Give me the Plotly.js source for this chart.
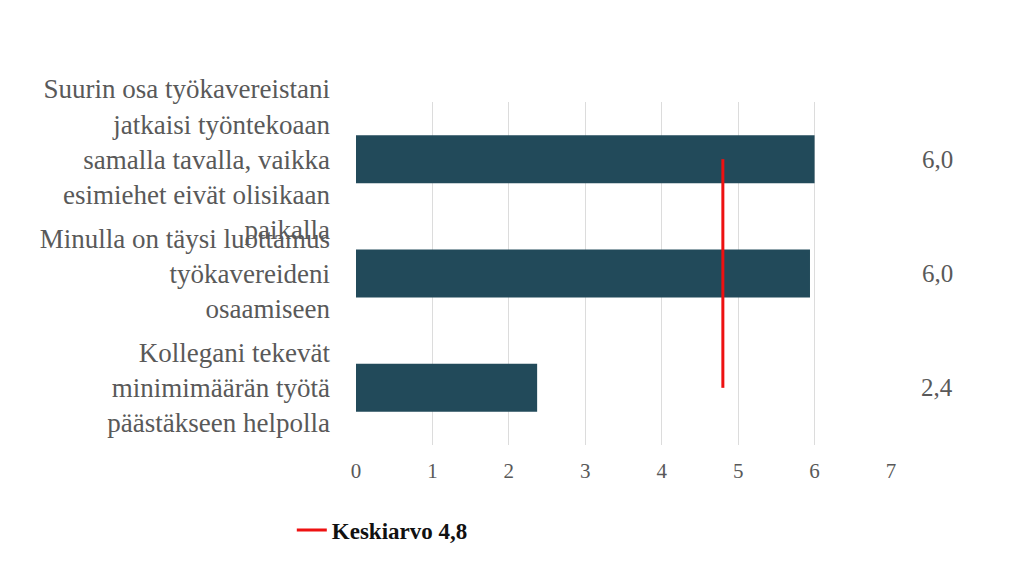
<!DOCTYPE html>
<html>
<head>
<meta charset="utf-8">
<script src="https://cdn.plot.ly/plotly-3.0.1.min.js"></script>
<style>
  html, body { margin: 0; padding: 0; background: #fff; }
  #graph { width: 1024px; height: 575px; }
</style>
</head>
<body>
<div id="graph"></div>
<script>
// väittämät (ylhäältä alas)
var categories = [
  'Suurin osa työkavereistani<br>jatkaisi työntekoaan<br>samalla tavalla, vaikka<br>esimiehet eivät olisikaan<br>paikalla',
  'Minulla on täysi luottamus<br>työkavereideni<br>osaamiseen',
  'Kollegani tekevät<br>minimimäärän työtä<br>päästäkseen helpolla'
];
var values = [6.0, 5.94, 2.37];
var valueLabels = ['6,0', '6,0', '2,4'];
var average = 4.8;
var averageName = '<b>Keskiarvo 4,8</b>';
var xTicks = [0, 1, 2, 3, 4, 5, 6, 7];

var serif = '"Liberation Serif", "DejaVu Serif", serif';

var bars = {
  type: 'bar',
  orientation: 'h',
  x: values,
  y: categories,
  width: 0.42,
  marker: { color: '#224a5a' },
  showlegend: false,
  hoverinfo: 'x'
};

var avgLine = {
  type: 'scatter',
  mode: 'lines',
  x: categories.map(function () { return average; }),
  y: categories,
  line: { color: '#ee1111', width: 3 },
  name: averageName
};

var annotations = categories.map(function (c, i) {
  return {
    xref: 'paper', yref: 'y',
    x: 1.086, y: c,
    text: valueLabels[i],
    showarrow: false,
    xanchor: 'center',
    font: { family: serif, size: 25, color: '#595959' }
  };
});

var layout = {
  width: 1024,
  height: 575,
  margin: { l: 356, r: 133, t: 102, b: 130 },
  paper_bgcolor: '#ffffff',
  plot_bgcolor: '#ffffff',
  font: { family: serif, color: '#595959' },
  xaxis: {
    range: [0, 7],
    tickvals: xTicks,
    showgrid: true,
    gridcolor: '#dcdcdc',
    gridwidth: 1,
    zeroline: false,
    showline: false,
    ticks: '',
    ticklabelstandoff: 11,
    tickfont: { family: serif, size: 21, color: '#595959' }
  },
  yaxis: {
    autorange: 'reversed',
    showgrid: false,
    zeroline: false,
    showline: false,
    ticks: '',
    ticklabelstandoff: 25,
    tickfont: { family: serif, size: 27, color: '#595959' }
  },
  showlegend: true,
  legend: {
    orientation: 'h',
    x: -0.12,
    xanchor: 'left',
    y: -0.248,
    yanchor: 'middle',
    font: { family: serif, size: 23, color: '#111111' },
    bgcolor: 'rgba(0,0,0,0)'
  },
  annotations: annotations
};

Plotly.newPlot('graph', [bars, avgLine], layout, { displayModeBar: false, staticPlot: true });
</script>
</body>
</html>
